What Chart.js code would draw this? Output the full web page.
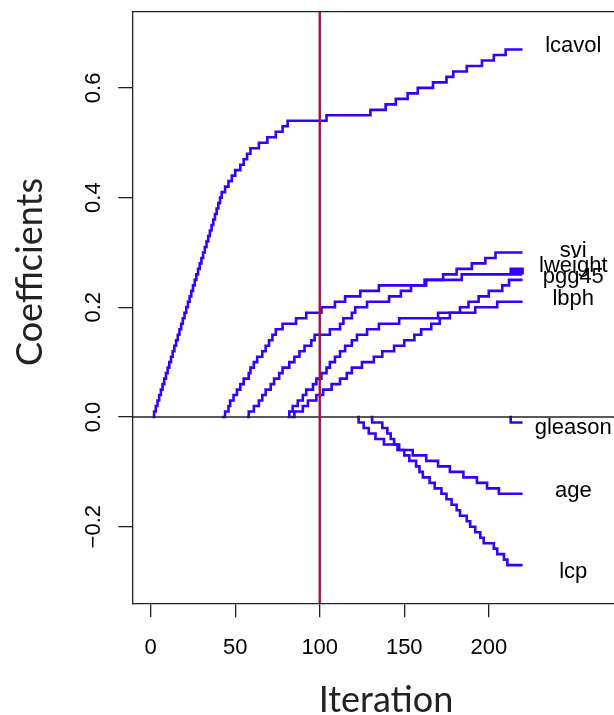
<!DOCTYPE html>
<html>
<head>
<meta charset="utf-8">
<script src="https://cdn.jsdelivr.net/npm/chart.js@4.4.0/dist/chart.umd.min.js"></script>
<style>
html, body { margin: 0; padding: 0; background: #fff; overflow: hidden; }
#caja { width: 614px; height: 715px; }
</style>
</head>
<body>
<div id="caja"><canvas id="grafica" width="614" height="715"></canvas></div>
<script>
// coefficient paths: iteration where the step lands, value after it
var lcavolIter = [1,2,3,4,5,6,7,8,9,10,11,12,13,14,15,16,17,18,19,20,21,22,23,24,25,26,27,28,29,30,31,32,33,34,35,36,37,38,39,40,41,42,
    44,46,48,50,53,55,57,59,64,69,74,78,81,104,130,139,145,152,158,167,175,179,187,196,203,210,220];
var lcavolCoef = [0,0.01,0.02,0.03,0.04,0.05,0.06,0.07,0.08,0.09,0.10,0.11,0.12,0.13,0.14,0.15,0.16,0.17,0.18,0.19,0.20,
    0.21,0.22,0.23,0.24,0.25,0.26,0.27,0.28,0.29,0.30,0.31,0.32,0.33,0.34,0.35,0.36,0.37,0.38,0.39,0.40,0.41,
    0.42,0.43,0.44,0.45,0.46,0.47,0.48,0.49,0.50,0.51,0.52,0.53,0.54,0.55,0.56,0.57,0.58,0.59,0.60,0.61,0.62,0.63,0.64,0.65,0.66,0.67,0.67];

var sviIter = [42,44,46,47,49,51,53,55,58,59,61,63,66,68,70,72,74,78,86,92,101,109,115,124,135,163,173,181,190,198,204,220];
var sviCoef = [0,0.01,0.02,0.03,0.04,0.05,0.06,0.07,0.08,0.09,0.10,0.11,0.12,0.13,0.14,0.15,0.16,0.17,0.18,0.19,0.20,
    0.21,0.22,0.23,0.24,0.25,0.26,0.27,0.28,0.29,0.30,0.30];

var lweightIter = [57,58,61,64,66,68,71,73,76,78,82,85,88,91,95,97,106,112,114,119,121,128,141,148,154,162,184,
    213,214,215,216,217,218,219,220];
var lweightCoef = [0,0.01,0.02,0.03,0.04,0.05,0.06,0.07,0.08,0.09,0.10,0.11,0.12,0.13,0.14,0.15,0.16,0.17,0.18,0.19,0.20,
    0.21,0.22,0.23,0.24,0.25,0.26,0.27,0.26,0.27,0.26,0.27,0.26,0.27,0.26];

var pgg45Iter = [83,85,90,93,98,102,107,112,116,119,125,132,137,144,150,156,160,166,171,177,183,188,194,200,208,212,220];
var pgg45Coef = [0,0.01,0.02,0.03,0.04,0.05,0.06,0.07,0.08,0.09,0.10,0.11,0.12,0.13,0.14,0.15,0.16,0.17,0.18,0.19,0.20,
    0.21,0.22,0.23,0.24,0.25,0.25];

var lbphIter = [81,82,84,87,90,92,96,98,101,104,106,109,112,115,119,122,128,135,147,170,192,205,220];
var lbphCoef = [0,0.01,0.02,0.03,0.04,0.05,0.06,0.07,0.08,0.09,0.10,0.11,0.12,0.13,0.14,0.15,0.16,0.17,0.18,0.19,0.20,0.21,0.21];

var gleasonIter = [212,213,220];
var gleasonCoef = [0,-0.01,-0.01];

var ageIter = [122,123,126,129,133,138,147,155,163,170,177,185,193,199,206,220];
var ageCoef = [0,-0.01,-0.02,-0.03,-0.04,-0.05,-0.06,-0.07,-0.08,-0.09,-0.10,-0.11,-0.12,-0.13,-0.14,-0.14];

var lcpIter = [130,131,137,140,142,144,146,150,153,157,159,161,165,168,172,175,178,181,183,187,189,192,195,197,203,205,209,211,220];
var lcpCoef = [0,-0.01,-0.02,-0.03,-0.04,-0.05,-0.06,-0.07,-0.08,-0.09,-0.10,-0.11,-0.12,-0.13,-0.14,-0.15,-0.16,-0.17,
    -0.18,-0.19,-0.20,-0.21,-0.22,-0.23,-0.24,-0.25,-0.26,-0.27,-0.27];

// right-hand labels
var nombres = ['lcavol','svi','lweight','pgg45','lbph','gleason','age','lcp'];
var etiquetaCoef = [0.677,0.303,0.276,0.256,0.215,-0.019,-0.134,-0.283];
var etiquetaIter = 250;

var corte = 100;  // chosen iteration
var xTicks = [0,50,100,150,200];
var yTicks = [-0.2,0,0.2,0.4,0.6];
var yTickLabels = ['\u22120.2','0.0','0.2','0.4','0.6'];

var caminos = [
    [lcavolIter, lcavolCoef], [sviIter, sviCoef], [lweightIter, lweightCoef], [pgg45Iter, pgg45Coef],
    [lbphIter, lbphCoef], [gleasonIter, gleasonCoef], [ageIter, ageCoef], [lcpIter, lcpCoef]
];

var azul = '#3300ff';
var tinta = '#222';
var fuenteR = '"Liberation Sans", Arial, sans-serif';

var datasets = caminos.map(function(c, i){
    return {
        label: nombres[i],
        data: c[0].map(function(x, j){ return {x: x, y: c[1][j]}; }),
        borderColor: azul,
        borderWidth: 2.6,
        pointRadius: 0,
        stepped: true,
        fill: false,
        borderCapStyle: 'butt',
        borderJoinStyle: 'miter'
    };
});

var extras = {
    id: 'extras',
    afterDatasetsDraw: function(chart){
        var ctx = chart.ctx, a = chart.chartArea;
        var sx = chart.scales.x, sy = chart.scales.y;
        ctx.save();
        var y0 = sy.getPixelForValue(0);
        ctx.strokeStyle = tinta;
        ctx.lineWidth = 1.3;
        ctx.beginPath(); ctx.moveTo(a.left, y0); ctx.lineTo(a.right, y0); ctx.stroke();
        var xc = sx.getPixelForValue(corte);
        ctx.strokeStyle = '#9e1444';
        ctx.lineWidth = 2.4;
        ctx.beginPath(); ctx.moveTo(xc, a.top); ctx.lineTo(xc, a.bottom); ctx.stroke();
        ctx.restore();
    },
    afterDraw: function(chart){
        var ctx = chart.ctx, a = chart.chartArea;
        var sx = chart.scales.x, sy = chart.scales.y;
        ctx.save();
        // top of the box
        ctx.strokeStyle = tinta;
        ctx.lineWidth = 1.3;
        ctx.beginPath(); ctx.moveTo(a.left, a.top); ctx.lineTo(a.right, a.top); ctx.stroke();
        // variable names
        ctx.fillStyle = '#000';
        ctx.font = '22px ' + fuenteR;
        ctx.textAlign = 'center';
        ctx.textBaseline = 'middle';
        nombres.forEach(function(n, i){
            ctx.fillText(n, sx.getPixelForValue(etiquetaIter), sy.getPixelForValue(etiquetaCoef[i]));
        });
        // y tick labels, turned like R does
        ctx.textBaseline = 'alphabetic';
        yTicks.forEach(function(v, i){
            ctx.save();
            ctx.translate(99.5, sy.getPixelForValue(v));
            ctx.rotate(-Math.PI / 2);
            ctx.fillText(yTickLabels[i], 0, 0);
            ctx.restore();
        });
        // axis titles
        ctx.fillStyle = tinta;
        ctx.font = '36px Lato, "Open Sans", sans-serif';
        ctx.fillText('Iteration', 386, 711.5);
        ctx.save();
        ctx.translate(41.5, 272);
        ctx.rotate(-Math.PI / 2);
        ctx.fillText('Coefficients', 0, 0);
        ctx.restore();
        ctx.restore();
    }
};

new Chart(document.getElementById('grafica'), {
    type: 'line',
    data: { datasets: datasets },
    options: {
        responsive: false,
        animation: false,
        events: [],
        layout: { padding: { left: 0, top: 11.7, right: 0, bottom: 0 } },
        plugins: { legend: { display: false }, tooltip: { enabled: false } },
        scales: {
            x: {
                type: 'linear',
                min: -10.9,
                max: 274.1,
                afterBuildTicks: function(s){ s.ticks = xTicks.map(function(v){ return {value: v}; }); },
                afterFit: function(s){ s.height = 111.7; },
                grid: { drawOnChartArea: false, drawTicks: true, tickLength: 14, color: tinta, lineWidth: 1.3 },
                border: { display: true, color: tinta, width: 1.3 },
                ticks: { color: '#000', font: { family: fuenteR, size: 22 }, padding: 17, maxRotation: 0, autoSkip: false }
            },
            y: {
                type: 'linear',
                min: -0.3396,
                max: 0.7389,
                afterBuildTicks: function(s){ s.ticks = yTicks.map(function(v){ return {value: v}; }); },
                afterFit: function(s){ s.width = 132.3; },
                grid: { drawOnChartArea: false, drawTicks: true, tickLength: 14, color: tinta, lineWidth: 1.3 },
                border: { display: true, color: tinta, width: 1.3 },
                ticks: { display: false }
            }
        }
    },
    plugins: [extras]
});
</script>
</body>
</html>
